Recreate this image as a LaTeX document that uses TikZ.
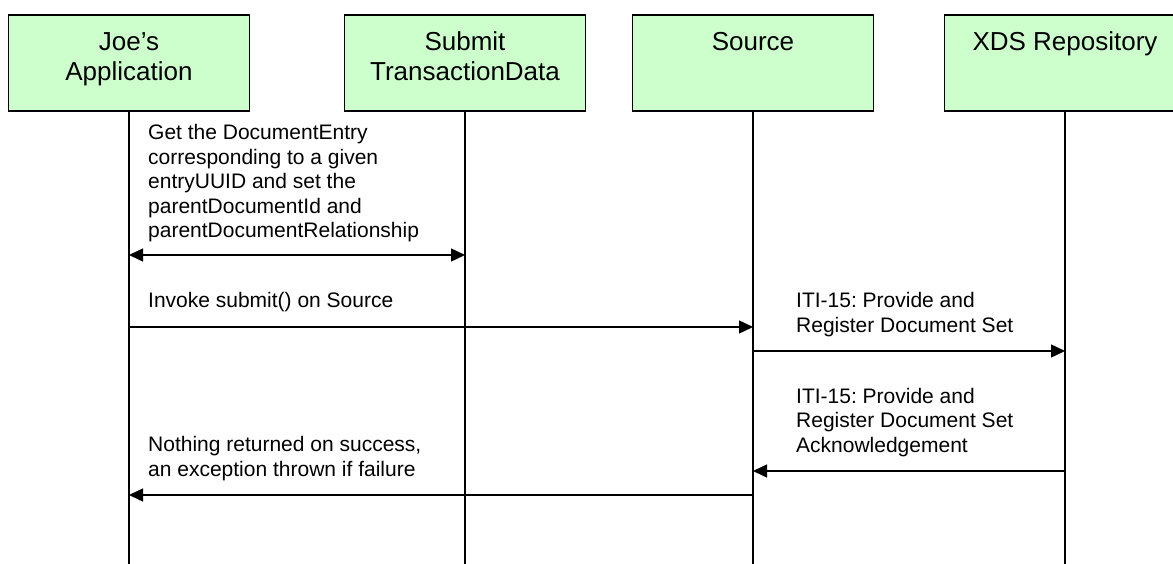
\documentclass[tikz,border=0pt]{standalone}
\usepackage{fontspec}
\setmainfont{Liberation Sans}
\usetikzlibrary{arrows.meta}
\definecolor{boxgreen}{HTML}{CCFFCC}
\frenchspacing
\begin{document}
\begin{tikzpicture}[x=1pt,y=-1pt,
  actor/.style={draw=black, line width=1.5pt, fill=boxgreen, minimum width=241pt, minimum height=96pt, inner sep=0pt},
  actortext/.style={font=\fontsize{26}{30}\selectfont, align=center, anchor=base, inner sep=0pt},
  life/.style={line width=1.4pt},
  msg/.style={line width=1.4pt, -{Triangle[length=14pt,width=13pt]}},
  dmsg/.style={line width=1.4pt, {Triangle[length=14pt,width=13pt]}-{Triangle[length=14pt,width=13pt]}},
  msgtext/.style={font=\fontsize{21}{24.5}\selectfont, align=left, anchor=base west, inner sep=0pt}]
\useasboundingbox (0,0) rectangle (1173,564);
\clip (0,0) rectangle (1173,564);
% actors
\node[actor] (joe) at (129,63) {};
\node[actor] (sub) at (465,63) {};
\node[actor] (src) at (753,63) {};
\node[actor] (rep) at (1065,63) {};
% actor names (anchor base = baseline of the last line)
\node[actortext] (joet) at (129,81) {Joe’s\\Application};
\node[actortext] (subt) at (465,81) {Submit\\TransactionData};
\node[actortext] (srct) at (753,51) {Source};
\node[actortext] (rept) at (1065,51) {XDS Repository};
% lifeline ends
\coordinate (joeb) at (129,564);
\coordinate (subb) at (465,564);
\coordinate (srcb) at (753,564);
\coordinate (repb) at (1065,564);
\draw[life] (joe.south) -- (joeb);
\draw[life] (sub.south) -- (subb);
\draw[life] (src.south) -- (srcb);
\draw[life] (rep.south) -- (repb);
% message levels
\coordinate (m1) at (0,255);
\coordinate (m2) at (0,327);
\coordinate (m3) at (0,351);
\coordinate (m4) at (0,471);
\coordinate (m5) at (0,495);
% messages
\draw[dmsg] (joe.south |- m1) -- (sub.south |- m1);
\draw[msg] (joe.south |- m2) -- (src.south |- m2);
\draw[msg] (src.south |- m3) -- (rep.south |- m3);
\draw[msg] (rep.south |- m4) -- (src.south |- m4);
\draw[msg] (src.south |- m5) -- (joe.south |- m5);
% message texts (anchor base west = baseline of the last line)
\node[msgtext] (t1) at (148,238) {Get the DocumentEntry\\corresponding to a given\\entryUUID and set the\\parentDocumentId and\\parentDocumentRelationship};
\node[msgtext] (t2) at (148,307) {Invoke submit() on Source};
\node[msgtext] (t3) at (796,332) {ITI-15: Provide and\\Register Document Set};
\node[msgtext] (t4) at (796,452) {ITI-15: Provide and\\Register Document Set\\Acknowledgement};
\node[msgtext] (t5) at (148,476) {Nothing returned on success,\\an exception thrown if failure};
\end{tikzpicture}
\end{document}
